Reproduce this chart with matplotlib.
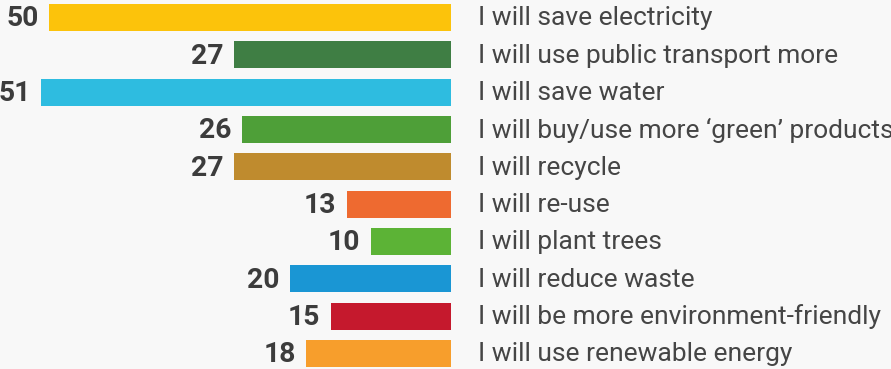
import matplotlib.pyplot as plt

plt.rcParams['font.family'] = ['Roboto', 'DejaVu Sans']

labels = ['I will save electricity', 'I will use public transport more', 'I will save water',
          'I will buy/use more \u2018green\u2019 products', 'I will recycle', 'I will re-use',
          'I will plant trees', 'I will reduce waste', 'I will be more environment-friendly',
          'I will use renewable energy']
values = [50, 27, 51, 26, 27, 13, 10, 20, 15, 18]
colors = ['#FCC30B', '#3F7E44', '#2EBCE0', '#4E9F38', '#BF8B2E', '#EE6A30',
          '#5CB336', '#1A96D4', '#C5192D', '#F79E2C']

bg = '#f8f8f8'
fig = plt.figure(figsize=(8.91, 3.69), dpi=100, facecolor=bg)
ax = fig.add_axes([0, 0, 1, 1])
ax.set_facecolor(bg)

# bars grow leftwards from the label column, with a small stub at the base
scale = 8.03
base = 0.7
ypos = list(range(len(values)))
ax.barh(ypos, values, left=-base, height=0.72, color=colors)

ax.set_xlim(451 / scale - base, -440 / scale - base)
ax.set_ylim((369 - 17.5) / 37.33, -17.5 / 37.33)

for y, v, lab in zip(ypos, values, labels):
    ax.annotate(str(v), (v - base, y), xytext=(-7.5, -1), textcoords='offset points',
                ha='right', va='center', fontsize=20.3, fontweight='bold', color='#3c3c3c')
    ax.annotate(lab, (-base, y), xytext=(19.5, -0.5), textcoords='offset points',
                ha='left', va='center', fontsize=19, color='#454545')

ax.axis('off')
fig.savefig('out.png', dpi=100, facecolor=bg)
